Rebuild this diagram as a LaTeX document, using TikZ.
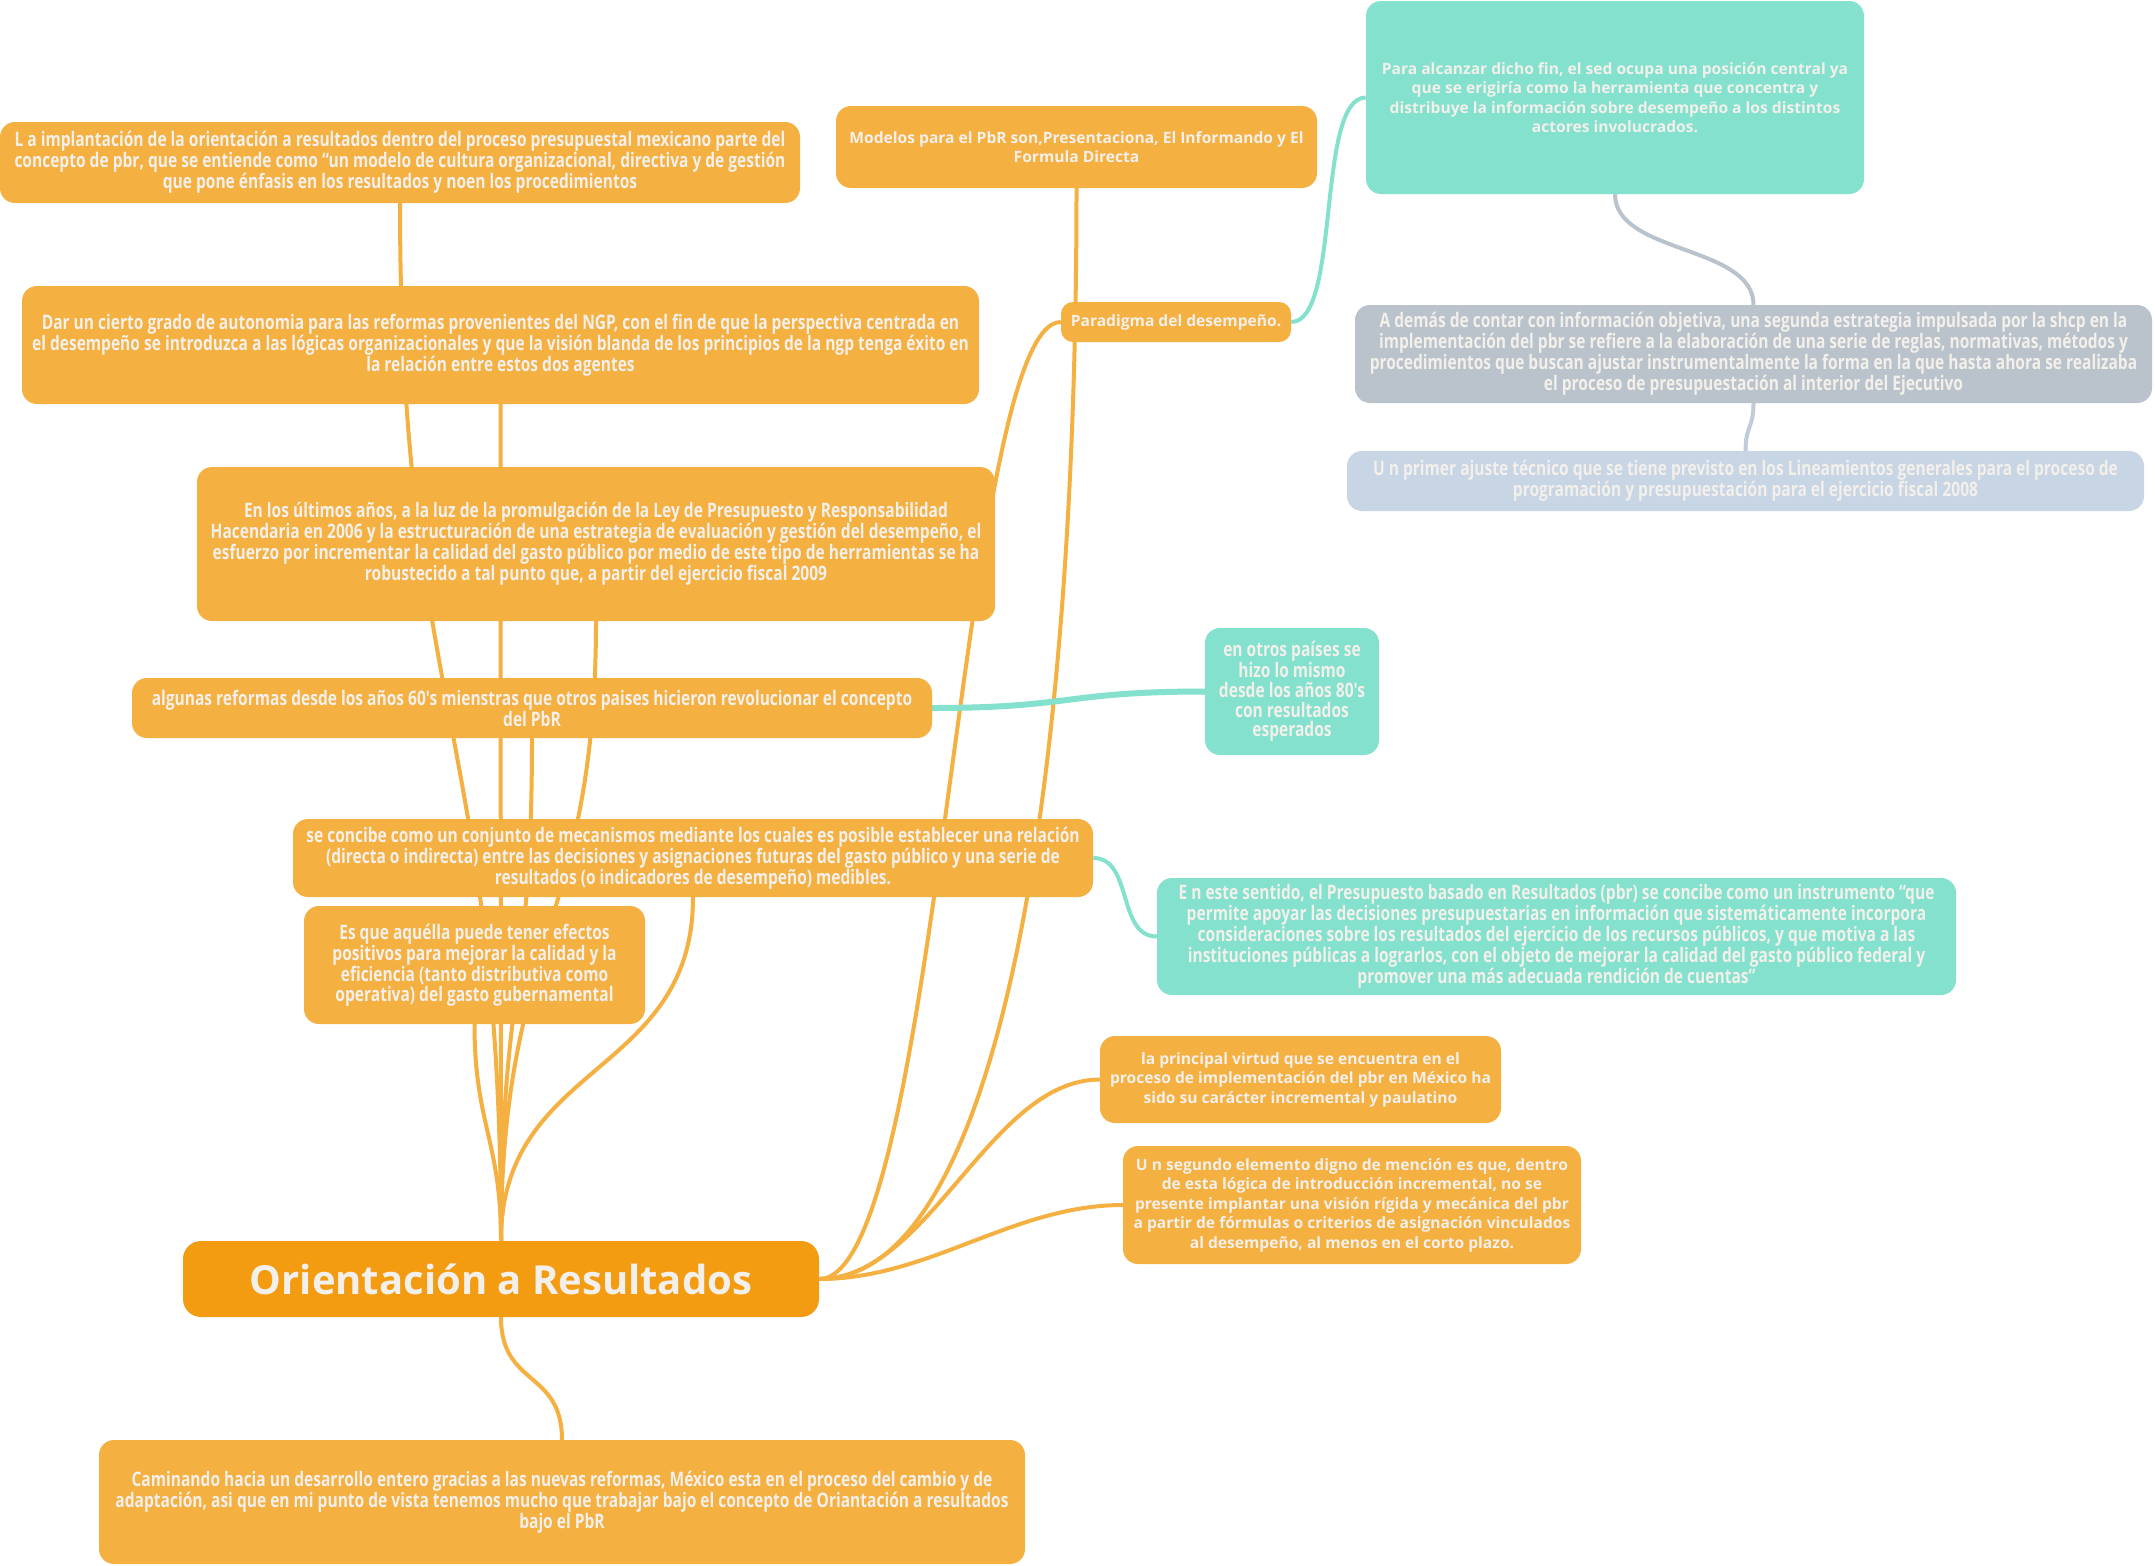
\documentclass[tikz,border=0pt]{standalone}
\usepackage{fontspec}
\setmainfont{Open Sans}
\newfontfamily\normfont{Open Sans}
\newfontfamily\condfont[FakeStretch=0.777]{Open Sans}
\definecolor{orng}{HTML}{F5B042}
\definecolor{mainor}{HTML}{F39C12}
\definecolor{tealc}{HTML}{84E1CE}
\definecolor{grayc}{HTML}{BAC3CC}
\definecolor{lblue}{HTML}{C8D5E4}
\definecolor{txt}{HTML}{F3F0EB}
\pgfdeclarelayer{bg}
\pgfsetlayers{bg,main}
\tikzset{
  box/.style={rectangle, rounded corners=15pt, draw=none, inner sep=0pt, align=center, text=txt},
  ob/.style={box, fill=orng},
  tb/.style={box, fill=tealc},
  cond/.style={font=\condfont\bfseries\fontsize{20}{19.8}\selectfont},
  norm/.style={font=\normfont\bfseries\fontsize{15.6}{19.5}\selectfont},
  oline/.style={draw=orng, line width=4pt},
  tline/.style={draw=tealc, line width=4pt},
}
\begin{document}
\begin{tikzpicture}[x=1pt,y=1pt]
\useasboundingbox (0,0) rectangle (2155,-1566);
\begin{pgfonlayer}{bg}
\fill[white] (0,0) rectangle (2155,-1566);
\end{pgfonlayer}

% nodes
\node[ob,cond,minimum width=800,minimum height=81] (n1) at (400,-162.5) {L a implantación de la orientación a resultados dentro del proceso presupuestal mexicano parte del\\concepto de pbr, que se entiende como “un modelo de cultura organizacional, directiva y de gestión\\que pone énfasis en los resultados y noen los procedimientos};
\node[ob,cond,minimum width=957,minimum height=118] (n2) at (500.5,-345) {Dar un cierto grado de autonomia para las reformas provenientes del NGP, con el fin de que la perspectiva centrada en\\el desempeño se introduzca a las lógicas organizacionales y que la visión blanda de los principios de la ngp tenga éxito en\\la relación entre estos dos agentes};
\node[ob,cond,minimum width=798,minimum height=154] (n3) at (596,-544) {En los últimos años, a la luz de la promulgación de la Ley de Presupuesto y Responsabilidad\\Hacendaria en 2006 y la estructuración de una estrategia de evaluación y gestión del desempeño, el\\esfuerzo por incrementar la calidad del gasto público por medio de este tipo de herramientas se ha\\robustecido a tal punto que, a partir del ejercicio fiscal 2009};
\node[ob,cond,minimum width=800,minimum height=60] (n4) at (532,-708) {algunas reformas desde los años 60's mienstras que otros paises hicieron revolucionar el concepto\\del PbR};
\node[tb,cond,minimum width=174,minimum height=127] (n5) at (1292,-691.5) {en otros países se\\hizo lo mismo\\desde los años 80's\\con resultados\\esperados};
\node[ob,cond,minimum width=800,minimum height=78] (n6) at (693,-858) {se concibe como un conjunto de mecanismos mediante los cuales es posible establecer una relación\\(directa o indirecta) entre las decisiones y asignaciones futuras del gasto público y una serie de\\resultados (o indicadores de desempeño) medibles.};
\node[ob,cond,minimum width=341,minimum height=118] (n7) at (474.5,-965) {Es que aquélla puede tener efectos\\positivos para mejorar la calidad y la\\eficiencia (tanto distributiva como\\operativa) del gasto gubernamental};
\node[box,fill=mainor,rounded corners=18pt,minimum width=636,minimum height=76,font=\normfont\bfseries\fontsize{40}{44}\selectfont] (n8) at (501,-1279) {Orientación a Resultados};
\node[ob,cond,minimum width=926,minimum height=124] (n9) at (562,-1502) {Caminando hacia un desarrollo entero gracias a las nuevas reformas, México esta en el proceso del cambio y de\\adaptación, asi que en mi punto de vista tenemos mucho que trabajar bajo el concepto de Oriantación a resultados\\bajo el PbR};
\node[ob,norm,minimum width=481,minimum height=82] (n10) at (1076.5,-147) {Modelos para el PbR son,Presentaciona, El Informando y El\\Formula Directa};
\node[ob,norm,rounded corners=12pt,minimum width=230,minimum height=40] (n11) at (1176,-322) {Paradigma del desempeño.};
\node[tb,norm,minimum width=498,minimum height=193] (n12) at (1615,-97.5) {Para alcanzar dicho fin, el sed ocupa una posición central ya\\que se erigiría como la herramienta que concentra y\\distribuye la información sobre desempeño a los distintos\\actores involucrados.};
\node[box,fill=grayc,cond,minimum width=797,minimum height=98] (n13) at (1753.5,-354) {A demás de contar con información objetiva, una segunda estrategia impulsada por la shcp en la\\implementación del pbr se refiere a la elaboración de una serie de reglas, normativas, métodos y\\procedimientos que buscan ajustar instrumentalmente la forma en la que hasta ahora se realizaba\\el proceso de presupuestación al interior del Ejecutivo};
\node[box,fill=lblue,cond,minimum width=797,minimum height=60] (n14) at (1745.5,-481) {U n primer ajuste técnico que se tiene previsto en los Lineamientos generales para el proceso de\\programación y presupuestación para el ejercicio fiscal 2008};
\node[tb,cond,minimum width=799,minimum height=117] (n15) at (1556.5,-936.5) {E n este sentido, el Presupuesto basado en Resultados (pbr) se concibe como un instrumento “que\\permite apoyar las decisiones presupuestarias en información que sistemáticamente incorpora\\consideraciones sobre los resultados del ejercicio de los recursos públicos, y que motiva a las\\instituciones públicas a lograrlos, con el objeto de mejorar la calidad del gasto público federal y\\promover una más adecuada rendición de cuentas”};
\node[ob,norm,minimum width=401,minimum height=87] (n16) at (1300.5,-1079.5) {la principal virtud que se encuentra en el\\proceso de implementación del pbr en México ha\\sido su carácter incremental y paulatino};
\node[ob,norm,minimum width=458,minimum height=118] (n17) at (1352,-1205) {U n segundo elemento digno de mención es que, dentro\\de esta lógica de introducción incremental, no se\\presente implantar una visión rígida y mecánica del pbr\\a partir de fórmulas o criterios de asignación vinculados\\al desempeño, al menos en el corto plazo.};

% connectors
\begin{pgfonlayer}{bg}
\draw[oline] (n8.north) .. controls +(0,500) and +(0,-500) .. (n1.south);
\draw[oline] (n8.north) .. controls +(0,400) and +(0,-400) .. (n2.south);
\draw[oline] (n8.north) .. controls +(0,300) and +(0,-300) .. (n3.south);
\draw[oline] (n8.north) .. controls +(0,250) and +(0,-250) .. (n4.south);
\draw[oline] (n8.north) .. controls +(0,180) and +(0,-180) .. (n6.south);
\draw[oline] (n8.north) .. controls +(0,100) and +(0,-100) .. (n7.south);
\draw[oline] (n8.south) .. controls +(0,-70) and +(0,70) .. (n9.north);
\draw[oline] (n8.east) .. controls +(180,0) and +(0,-600) .. (n10.south);
\draw[oline] (n8.east) .. controls (940,-1279) and (960,-322) .. (n11.west);
\draw[oline] (n8.east) .. controls +(110,0) and +(-110,0) .. (n16.west);
\draw[oline] (n8.east) .. controls +(110,0) and +(-110,0) .. (n17.west);
\draw[tline] (n11.east) .. controls +(50,0) and +(-50,0) .. (n12.west);
\draw[tline,line width=6pt] (n4.east) .. controls +(140,0) and +(-140,0) .. (n5.west);
\draw[tline] (n6.east) .. controls +(40,0) and +(-40,0) .. (n15.west);
\draw[draw=grayc,line width=4pt] (n12.south) .. controls +(0,-60) and +(0,60) .. (n13.north);
\draw[draw=lblue!90!gray,line width=4pt] (n13.south) .. controls +(0,-25) and +(0,25) .. (n14.north);
\end{pgfonlayer}
\end{tikzpicture}
\end{document}
